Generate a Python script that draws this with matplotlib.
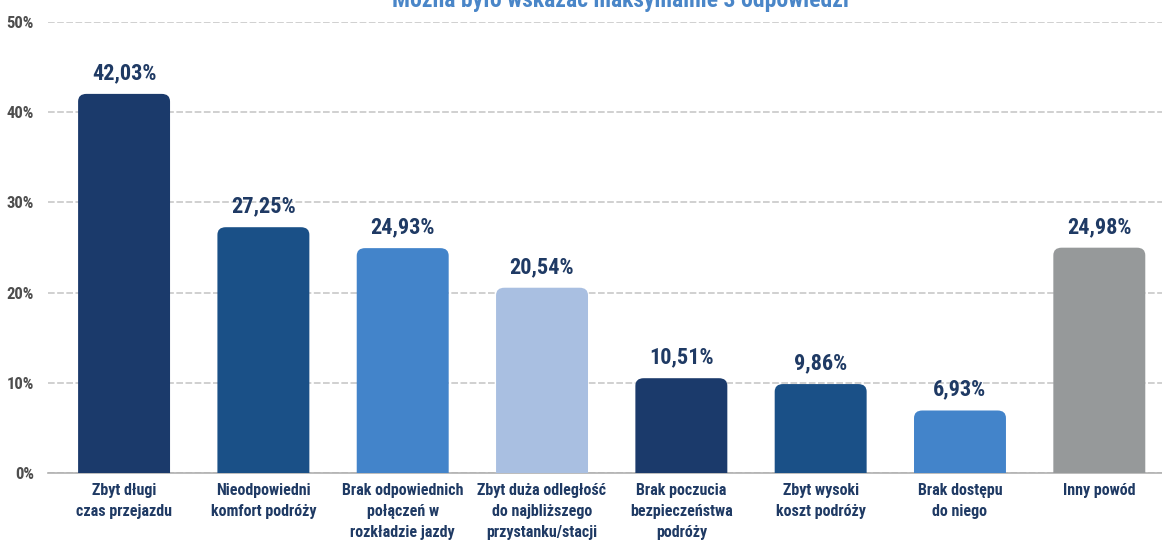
import matplotlib
matplotlib.use("Agg")
import matplotlib.pyplot as plt
from matplotlib.patches import FancyBboxPatch
from matplotlib import font_manager

categories = [
    "Zbyt długi\nczas przejazdu",
    "Nieodpowiedni\nkomfort podróży",
    "Brak odpowiednich\npołączeń w\nrozkładzie jazdy",
    "Zbyt duża odległość\ndo najbliższego\nprzystanku/stacji",
    "Brak poczucia\nbezpieczeństwa\npodróży",
    "Zbyt wysoki\nkoszt podróży",
    "Brak dostępu\ndo niego",
    "Inny powód",
]
values = [42.03, 27.25, 24.93, 20.54, 10.51, 9.86, 6.93, 24.98]
yticks = [0, 10, 20, 30, 40, 50]
colors = ["#1b3a6b", "#1a5087", "#4384ca", "#a9bfe1",
          "#1b3a6b", "#1a5087", "#4384ca", "#96999a"]
title = "Można było wskazać maksymalnie 3 odpowiedzi"

names = {f.name for f in font_manager.fontManager.ttflist}
family = "DejaVu Sans"
for cand in ["Roboto Condensed", "Barlow Condensed", "Asap Condensed", "Archivo Narrow"]:
    if cand in names:
        family = cand
        break
plt.rcParams["font.family"] = [family, "DejaVu Sans"]

fig = plt.figure(figsize=(11.62, 5.44), dpi=100)
ax = fig.add_axes([48 / 1162, 71 / 544, 1 - 48 / 1162, (473 - 22) / 544])

x = list(range(len(values)))
bars = ax.bar(x, values, width=0.66, color=colors)

# swap plain bars for rounded-top ones
for b, c in zip(bars, colors):
    bx, by = b.get_xy()
    w, h = b.get_width(), b.get_height()
    b.remove()
    p = FancyBboxPatch((bx, by - 2), w, h + 2,
                       boxstyle="round,pad=0,rounding_size=0.06",
                       mutation_aspect=14, facecolor=c, edgecolor="none",
                       zorder=3)
    ax.add_patch(p)

for xi, v in zip(x, values):
    ax.annotate(f"{v:.2f}%".replace(".", ","), (xi, v), xytext=(0, 7),
                textcoords="offset points", ha="center", va="bottom",
                fontsize=16, fontweight="bold", color="#1f3a64")

ax.set_xlim(-0.546, 7.45)
ax.set_ylim(0, 50)
ax.set_yticks(yticks)
ax.set_yticklabels([f"{t}%" for t in yticks])
ax.set_xticks(x)
ax.set_xticklabels(categories, linespacing=1.5)
ax.tick_params(axis="y", length=0, pad=10, labelsize=12, labelcolor="#4d4d4d")
ax.tick_params(axis="x", length=0, pad=7, labelsize=11.5, labelcolor="#1f3a64")
for lbl in ax.get_xticklabels() + ax.get_yticklabels():
    lbl.set_fontweight("bold")

ax.yaxis.grid(True, linestyle=(0, (4, 1.5)), color="#c8c8c8", linewidth=1.2)
ax.set_axisbelow(True)
for s in ["top", "right", "left"]:
    ax.spines[s].set_visible(False)
ax.spines["bottom"].set_color("#b0b0b0")
ax.spines["bottom"].set_linewidth(1.2)

fig.text(620 / 1162, 1.0, title, ha="center", va="center",
         fontsize=17, fontweight="bold", color="#4a86c8")

fig.savefig("out.png", dpi=100)
